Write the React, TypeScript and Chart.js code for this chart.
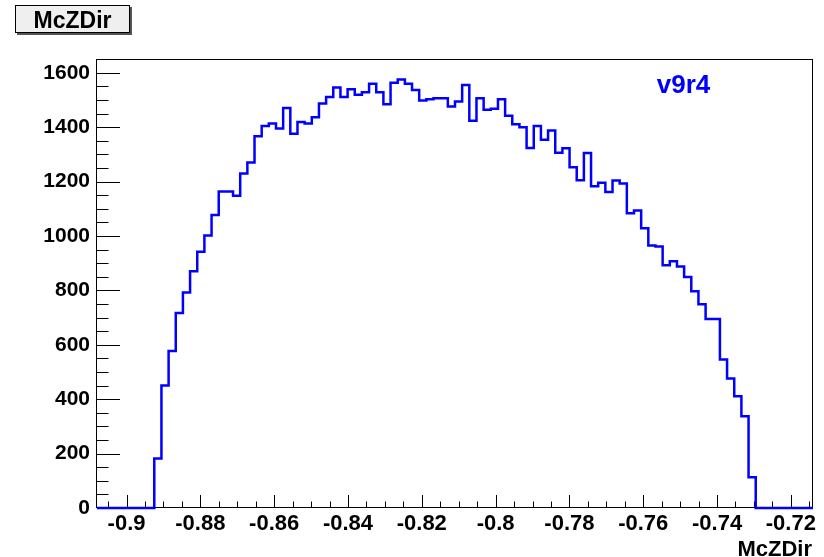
import React, { useEffect, useRef } from "react";
import { Chart, registerables } from "chart.js";

Chart.register(...registerables);

// Histogram definition (100 bins)
const X_MIN = -0.908;
const X_MAX = -0.714;
const N_BINS = 100;
const FIRST_FILLED_BIN = 8;
// bin contents for bins 8..91 (all other bins are empty)
const binCounts = [
  182, 450, 577, 717, 792, 871, 942, 1002, 1077, 1164,
  1164, 1148, 1230, 1270, 1367, 1405, 1414, 1395, 1471, 1376,
  1419, 1414, 1437, 1487, 1511, 1546, 1511, 1540, 1520, 1529,
  1560, 1529, 1485, 1564, 1576, 1560, 1537, 1498, 1503, 1507,
  1507, 1476, 1495, 1555, 1424, 1507, 1464, 1468, 1503, 1442,
  1411, 1400, 1324, 1405, 1354, 1388, 1306, 1323, 1253, 1205,
  1305, 1183, 1196, 1162, 1204, 1193, 1084, 1094, 1029, 965,
  962, 893, 907, 888, 849, 797, 749, 695, 695, 546,
  476, 411, 337, 113,
];
const Y_MIN = 0;
const Y_MAX = 1651;
const X_MAJOR_STEP = 0.02;
const X_MINOR_DIV = 4;
const Y_MAJOR_STEP = 200;
const Y_MINOR_DIV = 4;

const HIST_TITLE = "McZDir";
const X_TITLE = "McZDir";
const LABEL_TEXT = "v9r4";

const FONT = "'Liberation Sans', Arial, Helvetica, sans-serif";

function buildSteps() {
  const w = (X_MAX - X_MIN) / N_BINS;
  const pts: { x: number; y: number }[] = [];
  for (let i = 0; i < N_BINS; i++) {
    const j = i - FIRST_FILLED_BIN;
    const v = j >= 0 && j < binCounts.length ? binCounts[j] : 0;
    pts.push({ x: X_MIN + i * w, y: v });
  }
  pts.push({ x: X_MAX, y: pts[pts.length - 1].y });
  return pts;
}

const rootPlugin = {
  id: "rootDecor",
  beforeDatasetsDraw(chart: any) {
    const { ctx, chartArea: a, scales } = chart;
    const xs = scales.x;
    const ys = scales.y;
    ctx.save();
    ctx.strokeStyle = "#000";
    ctx.lineWidth = 1;
    // frame
    ctx.strokeRect(a.left - 0.5, a.top + 0.5, a.right - a.left, a.bottom - a.top - 1);
    // x ticks (inside)
    const xMinor = X_MAJOR_STEP / X_MINOR_DIV;
    const i0 = Math.ceil(X_MIN / xMinor - 1e-6);
    const i1 = Math.floor(X_MAX / xMinor + 1e-6);
    ctx.beginPath();
    for (let i = i0; i <= i1; i++) {
      const v = i * xMinor;
      const px = Math.round(xs.getPixelForValue(v)) + 0.5;
      const len = i % X_MINOR_DIV === 0 ? 13 : 6.5;
      ctx.moveTo(px, a.bottom);
      ctx.lineTo(px, a.bottom - len);
    }
    // y ticks (inside)
    const yMinor = Y_MAJOR_STEP / Y_MINOR_DIV;
    for (let i = 0; i * yMinor <= Y_MAX; i++) {
      const v = i * yMinor;
      const py = Math.round(ys.getPixelForValue(v)) + 0.5;
      const len = i % Y_MINOR_DIV === 0 ? 23 : 11.5;
      ctx.moveTo(a.left, py);
      ctx.lineTo(a.left + len, py);
    }
    ctx.stroke();
    ctx.restore();
  },
  afterDraw(chart: any) {
    const { ctx, chartArea: a } = chart;
    ctx.save();
    // title box with shadow
    ctx.fillStyle = "#555";
    ctx.fillRect(17, 7, 115, 28);
    ctx.fillStyle = "#efefef";
    ctx.fillRect(15, 5, 115, 28);
    ctx.strokeStyle = "#000";
    ctx.lineWidth = 1;
    ctx.strokeRect(15.5, 5.5, 114, 27);
    ctx.fillStyle = "#000";
    ctx.font = `bold 23px ${FONT}`;
    ctx.textAlign = "center";
    ctx.textBaseline = "alphabetic";
    ctx.fillText(HIST_TITLE, 72.5, 27.5);
    // x axis title
    ctx.font = `bold 22px ${FONT}`;
    ctx.textAlign = "right";
    ctx.fillText(X_TITLE, a.right - 1, 556);
    // label
    ctx.fillStyle = "#0000ff";
    ctx.font = `bold 26px ${FONT}`;
    ctx.textAlign = "center";
    ctx.fillText(LABEL_TEXT, 683.5, 92.5);
    ctx.restore();
  },
};

export default function App() {
  const ref = useRef<HTMLCanvasElement | null>(null);
  useEffect(() => {
    if (!ref.current) return;
    const chart = new Chart(ref.current, {
      type: "line",
      data: {
        datasets: [
          {
            data: buildSteps(),
            stepped: "before",
            borderColor: "#0000ff",
            borderWidth: 2.5,
            pointRadius: 0,
            fill: false,
            clip: false as any,
          },
        ],
      },
      options: {
        responsive: false,
        animation: false,
        events: [],
        layout: { padding: { left: 0, top: 59, right: 11, bottom: 0 } },
        plugins: { legend: { display: false }, tooltip: { enabled: false }, title: { display: false } },
        scales: {
          x: {
            type: "linear",
            min: X_MIN,
            max: X_MAX,
            grid: { display: false, drawTicks: false },
            border: { display: false },
            afterFit: (s: any) => {
              s.height = 49;
            },
            ticks: {
              stepSize: X_MAJOR_STEP,
              includeBounds: false,
              autoSkip: false,
              maxRotation: 0,
              padding: 3,
              color: "#000",
              font: { family: FONT, size: 22, weight: "bold" },
              callback: (v: any) => String(Number(Number(v).toFixed(4))),
            },
          },
          y: {
            type: "linear",
            min: Y_MIN,
            max: Y_MAX,
            grid: { display: false, drawTicks: false },
            border: { display: false },
            afterFit: (s: any) => {
              s.width = 97;
            },
            ticks: {
              stepSize: Y_MAJOR_STEP,
              includeBounds: false,
              padding: 7,
              color: "#000",
              font: { family: FONT, size: 21, weight: "bold" },
              callback: (v: any) => String(Math.round(Number(v))),
            },
          },
        },
      },
      plugins: [rootPlugin],
    });
    return () => chart.destroy();
  }, []);
  return (
    <div style={{ position: "fixed", left: 0, top: 0, width: 824, height: 557, background: "#fff" }}>
      <canvas ref={ref} width={824} height={557} style={{ display: "block" }} />
    </div>
  );
}
